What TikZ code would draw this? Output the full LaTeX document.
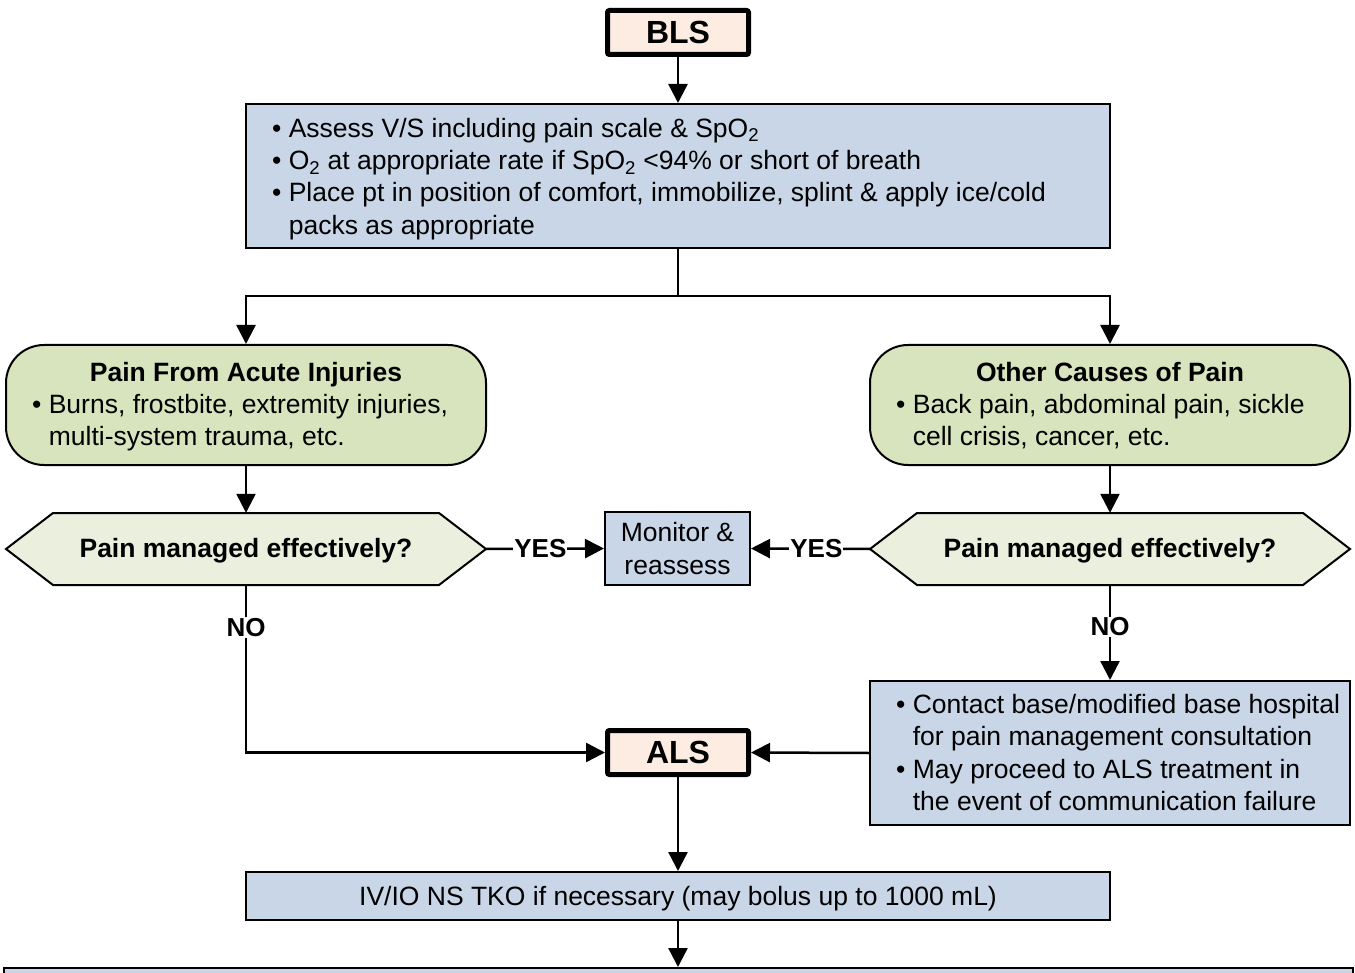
\documentclass[tikz,border=0pt]{standalone}
\usepackage{fontspec}
\setmainfont{Liberation Sans}
\usetikzlibrary{arrows.meta,calc}
\definecolor{bluefill}{RGB}{200,214,231}
\definecolor{greenfill}{RGB}{215,228,189}
\definecolor{hexfill}{RGB}{235,240,222}
\definecolor{peach}{RGB}{253,236,226}
\tikzset{
  txt/.style={font=\fontsize{26.5}{32.3}\selectfont, inner sep=0pt},
  bluebox/.style={draw=black, line width=2pt, fill=bluefill, inner sep=0pt},
  greenbox/.style={draw=black, line width=2pt, fill=greenfill, rounded corners=38pt, inner sep=0pt, minimum width=480pt, minimum height=120pt},
  hexbox/.style={draw=none, inner sep=0pt, minimum width=480pt, minimum height=72pt, text height=17pt, text depth=0pt, font=\fontsize{26.5}{30}\selectfont\bfseries},
  hexpath/.style={draw=black, line width=2pt, fill=hexfill},
  lsbox/.style={draw=black, line width=5pt, fill=peach, rounded corners=2pt, minimum width=141pt, minimum height=44pt, font=\fontsize{32}{36}\selectfont\bfseries, inner sep=0pt},
  arr/.style={line width=2.5pt, -{Triangle[length=19pt,width=19pt]}},
  conn/.style={line width=2.5pt},
  lbl/.style={fill=white, inner sep=1pt, font=\fontsize{26}{28}\selectfont\bfseries},
  title/.style={inner sep=0pt, anchor=base, font=\fontsize{26.5}{32.3}\selectfont\bfseries}
}
\newcommand{\bul}{\textbullet\ }
\newcommand{\ind}{\phantom{\textbullet\ }}
\begin{document}
\begin{tikzpicture}[x=1pt,y=-1pt]
\useasboundingbox (0,0) rectangle (1355,973);
\clip (0,0) rectangle (1355,973);

% BLS
\node[lsbox] (bls) at (678,32.5) {BLS};

% Assess box
\node[bluebox, minimum width=864pt, minimum height=144pt] (assess) at (678,176) {};
\node[txt, anchor=west, align=left] (assesstxt) at (272,179) {\bul Assess V/S including pain scale \& SpO\textsubscript{2}\\
\bul O\textsubscript{2} at appropriate rate if SpO\textsubscript{2} <94\% or short of breath\\
\bul Place pt in position of comfort, immobilize, splint \& apply ice/cold\\
\ind packs as appropriate};

% Green boxes
\node[greenbox] (acute) at (246,405) {};
\node[title] (acutetitle) at (246,381.5) {Pain From Acute Injuries};
\node[txt, anchor=north west, align=left] (acutetxt) at (32,394) {\bul Burns, frostbite, extremity injuries,\\
\ind multi-system trauma, etc.};

\node[greenbox] (other) at (1110,405) {};
\node[title] (othertitle) at (1110,381.5) {Other Causes of Pain};
\node[txt, anchor=north west, align=left] (othertxt) at (896,394) {\bul Back pain, abdominal pain, sickle\\
\ind cell crisis, cancer, etc.};

% Hexagons
\path[hexpath] (6,549) -- (53,513) -- (439,513) -- (486,549) -- (439,585) -- (53,585) -- cycle;
\node[hexbox] (q1) at (246,549) {Pain managed effectively?};
\path[hexpath] (870,549) -- (917,513) -- (1303,513) -- (1350,549) -- (1303,585) -- (917,585) -- cycle;
\node[hexbox] (q2) at (1110,549) {Pain managed effectively?};

% Monitor
\node[bluebox, minimum width=145pt, minimum height=73pt, align=center, font=\fontsize{26.5}{32.3}\selectfont] (mon) at (677.5,548.5) {Monitor \&\\reassess};

% Contact box
\node[bluebox, minimum width=480pt, minimum height=144pt] (contact) at (1110,753) {};
\node[txt, anchor=west, align=left] (contacttxt) at (896,752.5) {\bul Contact base/modified base hospital\\
\ind for pain management consultation\\
\bul May proceed to ALS treatment in\\
\ind the event of communication failure};

% ALS
\node[lsbox] (als) at (678,752.5) {ALS};

% IV box
\node[bluebox, minimum width=864pt, minimum height=48pt, text height=19pt, text depth=0pt, font=\fontsize{26.5}{30}\selectfont] (iv) at (678,896) {IV/IO NS TKO if necessary (may bolus up to 1000 mL)};

% Bottom box (cut off)
\node[bluebox, minimum width=1349pt, minimum height=80pt] (final) at (678,1008) {};

% Connectors
\coordinate (split) at (678,296);
\draw[arr] (bls.south) -- (assess.north);
\draw[conn] (assess.south) -- (split);
\draw[arr] (split) -| (acute.north);
\draw[arr] (split) -| (other.north);
\draw[arr] (acute.south) -- (q1.north);
\draw[arr] (other.south) -- (q2.north);
\draw[arr] (q1.east) -- node[lbl, pos=0.46] {YES} (mon.west);
\draw[arr] (q2.west) -- node[lbl, pos=0.45] {YES} (mon.east);
\draw[arr] (q1.south) |- node[lbl, pos=0.126] {NO} (als.west);
\draw[arr] (q2.south) -- node[lbl, pos=0.44] {NO} (contact.north);
\draw[arr] (contact.west) -- (als.east);
\draw[arr] (als.south) -- (iv.north);
\draw[arr] (iv.south) -- (final.north);
\end{tikzpicture}
\end{document}
